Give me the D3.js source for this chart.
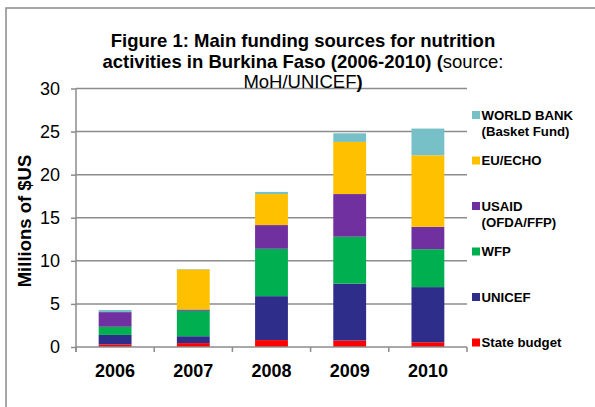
<!DOCTYPE html>
<html>
<head>
<meta charset="utf-8">
<script src="https://cdn.jsdelivr.net/npm/d3@7"></script>
<style>
html,body{margin:0;padding:0;background:#fff;}
svg{display:block;font-family:"Liberation Sans",Arial,sans-serif;}
</style>
</head>
<body>
<svg id="chart" width="595" height="407"></svg>
<script>
const years = ["2006", "2007", "2008", "2009", "2010"];
const seriesNames = ["State budget", "UNICEF", "WFP", "USAID (OFDA/FFP)", "EU/ECHO", "WORLD BANK (Basket Fund)"];
const stateBudget = [0.3, 0.45, 0.8, 0.75, 0.55];
const unicef = [1.1, 0.8, 5.1, 6.6, 6.4];
const wfp = [0.95, 2.95, 5.5, 5.45, 4.4];
const usaid = [1.7, 0.15, 2.75, 4.95, 2.6];
const euEcho = [0, 4.65, 3.6, 6.05, 8.3];
const worldBank = [0.25, 0.05, 0.25, 1.0, 3.1];
const yTicks = [0, 5, 10, 15, 20, 25, 30];
const legendLines = [["State budget"], ["UNICEF"], ["WFP"], ["USAID", "(OFDA/FFP)"], ["EU/ECHO"], ["WORLD BANK", "(Basket Fund)"]];
const colors = ["#ff0000", "#2e2e8a", "#00b050", "#7030a0", "#ffc000", "#77c0c7"];

const seriesValues = [stateBudget, unicef, wfp, usaid, euEcho, worldBank];
const table = years.map((y, i) => {
  const row = {year: y};
  seriesNames.forEach((s, k) => row[s] = seriesValues[k][i]);
  return row;
});

const svg = d3.select("#chart");
const gridColor = "#8c8c8c";

// outer frame
svg.append("rect").attr("x", 6).attr("y", 8).attr("width", 600).attr("height", 410)
  .attr("fill", "none").attr("stroke", "#8a8a8a").attr("stroke-width", 1.5);

const x = d3.scaleBand().domain(years).range([76, 467]).paddingInner(0.58).paddingOuter(0.29);
const y = d3.scaleLinear().domain([0, 30]).range([347, 88.5]);

// gridlines
svg.append("g").selectAll("line").data(yTicks.filter(t => t > 0)).join("line")
  .attr("x1", 76).attr("x2", 467).attr("y1", d => y(d)).attr("y2", d => y(d))
  .attr("stroke", gridColor).attr("stroke-width", 1.5);

// bars
const stack = d3.stack().keys(seriesNames)(table);
svg.append("g").selectAll("g").data(stack).join("g")
  .attr("fill", (d, i) => colors[i])
  .selectAll("rect").data(d => d).join("rect")
  .attr("x", d => x(d.data.year))
  .attr("width", x.bandwidth())
  .attr("y", d => y(d[1]))
  .attr("height", d => Math.max(0, y(d[0]) - y(d[1])));

// y axis
const yAxis = d3.axisLeft(y).tickValues(yTicks).tickSize(5).tickPadding(11);
const gy = svg.append("g").attr("transform", "translate(76,0)").call(yAxis);
gy.select(".domain").attr("stroke", gridColor).attr("stroke-width", 1.5).attr("d", "M0,88.5V352");
gy.selectAll(".tick line").attr("stroke", gridColor).attr("stroke-width", 1.5);
gy.selectAll(".tick text").attr("font-size", 18).attr("fill", "#000")
  .attr("font-family", "'Liberation Sans',Arial,sans-serif");

// x axis
const xAxis = d3.axisBottom(x).tickSize(0).tickPadding(0);
const gx = svg.append("g").attr("transform", "translate(0,347)").call(xAxis);
gx.select(".domain").attr("stroke", gridColor).attr("stroke-width", 1.5).attr("d", "M76,0H467");
gx.selectAll(".tick text").attr("font-size", 18).attr("font-weight", "bold").attr("fill", "#000")
  .attr("dy", 0).attr("y", 30)
  .attr("font-family", "'Liberation Sans',Arial,sans-serif");
const bounds = d3.range(years.length + 1).map(i => x.range()[0] + i * x.step());
gx.append("g").selectAll("line").data(bounds).join("line")
  .attr("x1", d => d).attr("x2", d => d).attr("y1", 0).attr("y2", 5)
  .attr("stroke", gridColor).attr("stroke-width", 1.5);

// y title
svg.append("text").attr("transform", "translate(31,221) rotate(-90)")
  .attr("text-anchor", "middle").attr("font-size", 18.5).attr("font-weight", "bold")
  .text("Millions of $US");

// title
const title = svg.append("text").attr("text-anchor", "middle").attr("font-size", 18.5).attr("fill", "#000");
title.append("tspan").attr("x", 303).attr("y", 46.7).attr("font-weight", "bold")
  .text("Figure 1: Main funding sources for nutrition");
const l2 = title.append("tspan").attr("x", 303).attr("y", 67.7);
l2.append("tspan").attr("font-weight", "bold").text("activities in Burkina Faso (2006-2010) (");
l2.append("tspan").text("source:");
const t3 = svg.append("text").attr("text-anchor", "middle").attr("font-size", 18.5)
  .attr("x", 303).attr("y", 87.7);
t3.append("tspan").text("MoH/UNICEF");
t3.append("tspan").attr("font-weight", "bold").text(")");

// legend
const leg = svg.append("g").selectAll("g").data(legendLines).join("g")
  .attr("transform", (d, i) => `translate(472,${347 - i * 45.5})`);
leg.append("rect").attr("x", 0).attr("y", -8.5).attr("width", 8).attr("height", 8)
  .attr("fill", (d, i) => colors[i]);
leg.append("text").attr("font-size", 13.2).attr("font-weight", "bold")
  .selectAll("tspan").data(d => d).join("tspan")
  .attr("x", 9.5).attr("y", (d, j) => j * 16.2).text(d => d);
</script>
</body>
</html>
